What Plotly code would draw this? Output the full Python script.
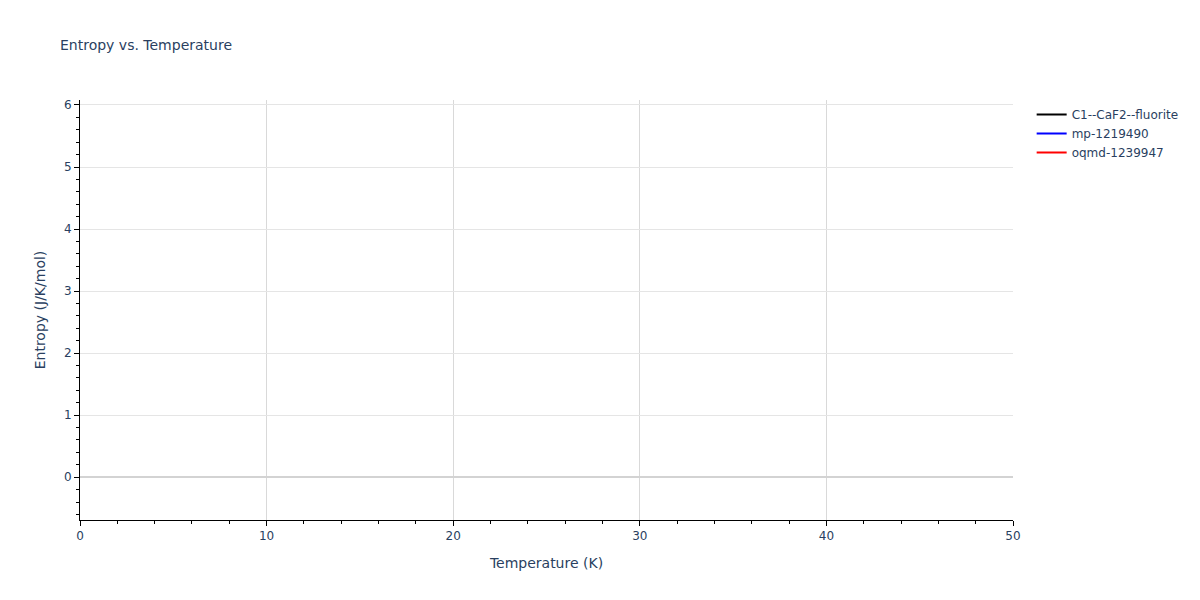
import plotly.graph_objects as go

# no point of the curves falls inside the plotted window; the series hold only gaps
series_names = ["C1--CaF2--fluorite", "mp-1219490", "oqmd-1239947"]
series_colors = ["black", "blue", "red"]
temperature = [[None], [None], [None]]
entropy = [[None], [None], [None]]

fig = go.Figure()
for name, color, t, s in zip(series_names, series_colors, temperature, entropy):
    fig.add_trace(go.Scatter(x=t, y=s, mode="lines", name=name,
                             line=dict(color=color, width=2), showlegend=True))

# the page body adds an 8px offset, so margins are shifted to compensate
fig.update_layout(
    title=dict(text="Entropy vs. Temperature", x=52 / 1200, xanchor="left",
               y=1 - 37 / 600, yanchor="middle", font=dict(size=14)),
    template="plotly_white",
    width=1200,
    height=600,
    font=dict(family="DejaVu Sans, Verdana, sans-serif", color="#2a3f5f"),
    margin=dict(l=72, r=195, t=92, b=88, autoexpand=False),
    showlegend=True,
)
fig.update_xaxes(
    title="Temperature (K)",
    range=[0, 50],
    showline=True, linecolor="black", linewidth=1,
    ticks="outside", tickcolor="black",
    minor=dict(ticks="outside", tickcolor="black", nticks=5),
    showgrid=True, gridcolor="#d9d9d9",
    zeroline=False,
)
fig.update_yaxes(
    title="Entropy (J/K/mol)",
    range=[-0.69, 6.08],
    showline=True, linecolor="black", linewidth=1,
    ticks="outside", tickcolor="black",
    minor=dict(ticks="outside", tickcolor="black", nticks=5),
    showgrid=True, gridcolor="#e5e5e5",
    zeroline=True, zerolinecolor="#d3d3d3", zerolinewidth=2,
)

fig.write_html("out.html")
